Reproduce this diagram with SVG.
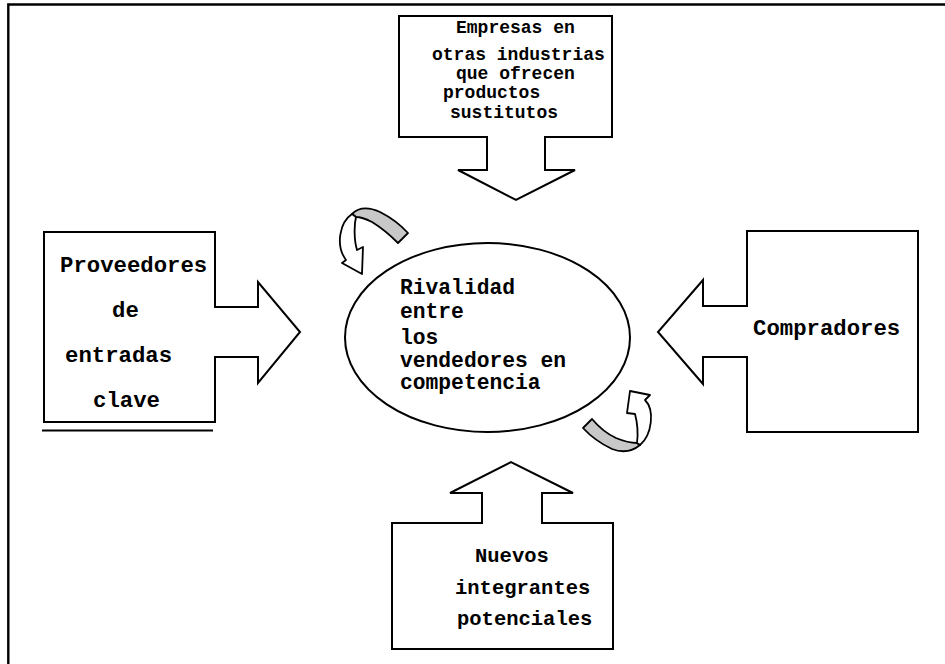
<svg xmlns="http://www.w3.org/2000/svg" width="945" height="664" viewBox="0 0 945 664">
<style>
.shape{fill:#fff;stroke:#000;stroke-width:2;stroke-linejoin:miter}
.band{fill:#c8c8c8;stroke:#000;stroke-width:1.8;stroke-linejoin:round}
.curl{fill:#fff;stroke:#000;stroke-width:1.8;stroke-linejoin:round}
.m{font-family:'Liberation Mono','Courier New','DejaVu Sans Mono',monospace;font-weight:bold;fill:#000}
.t18{font-size:18px}
.t20{font-size:20.5px}
.t21{font-size:21.3px}
.t22{font-size:22.3px}
.frame{stroke:#000;stroke-width:2.4;fill:none}
</style>
<rect width="945" height="664" fill="#fff"/>
<path class="frame" d="M8.3,664 V4.5 H945"/>

<g id="sustitutos">
<path class="shape" d="M399,16 H612 V137 H545 V170 H575 L516,200 L458,170 H487 V137 H399 Z"/>
<text class="m t18" x="456" y="33">Empresas en</text>
<text class="m t18" x="432" y="60">otras industrias</text>
<text class="m t18" x="456" y="79">que ofrecen</text>
<text class="m t18" x="443" y="98">productos</text>
<text class="m t18" x="450" y="118">sustitutos</text>
</g>

<g id="proveedores">
<path class="shape" d="M44,232 H215 V307 H258 V282 L300,332 L258,383 V357 H215 V422 H44 Z"/>
<path d="M42,430.5 H213" stroke="#000" stroke-width="2" fill="none"/>
<text class="m t22" x="60" y="272">Proveedores</text>
<text class="m t22" x="112" y="317">de</text>
<text class="m t22" x="65" y="362">entradas</text>
<text class="m t22" x="93" y="407">clave</text>
</g>

<g id="rivalidad">
<ellipse class="shape" cx="487.5" cy="337.5" rx="142.5" ry="94.5"/>
<text class="m t21" x="400" y="294">Rivalidad</text>
<text class="m t21" x="400" y="318">entre</text>
<text class="m t21" x="400" y="344">los</text>
<text class="m t21" x="400" y="367">vendedores en</text>
<text class="m t21" x="400" y="389">competencia</text>
</g>

<g id="compradores">
<path class="shape" d="M747,231 H918 V432 H747 V357 H703 V384 L658,332 L703,280 V306 H747 Z"/>
<text class="m t22" x="753" y="335">Compradores</text>
</g>

<g id="nuevos">
<path class="shape" d="M392,523 H482 V493 H450 L511,462 L573,493 H542 V523 H613 V649 H392 Z"/>
<text class="m t20" x="475" y="562">Nuevos</text>
<text class="m t20" x="455" y="594">integrantes</text>
<text class="m t20" x="457" y="625">potenciales</text>
</g>

<g id="connectors">
<path class="band" d="M352,214 Q362,204 380,212 Q396,220 408,233 L398,243 Q385,230 372,222 Q362,217 356,217 Z"/>
<path class="curl" d="M352,214 C340,222 335,245 346,260 L342,263 L362,274 L363,247 L357,250 C354,240 354,225 356,217 Z"/>
<path class="band" d="M640,445 Q628,455 612,449 Q595,441 583,428 L592,419 Q603,432 616,438 Q628,443 637,443 Z"/>
<path class="curl" d="M640,445 C652,435 655,410 645,400 L650,395 L630,391 L627,413 L635,414 C638,425 638,435 637,443 Z"/>
</g>
</svg>
